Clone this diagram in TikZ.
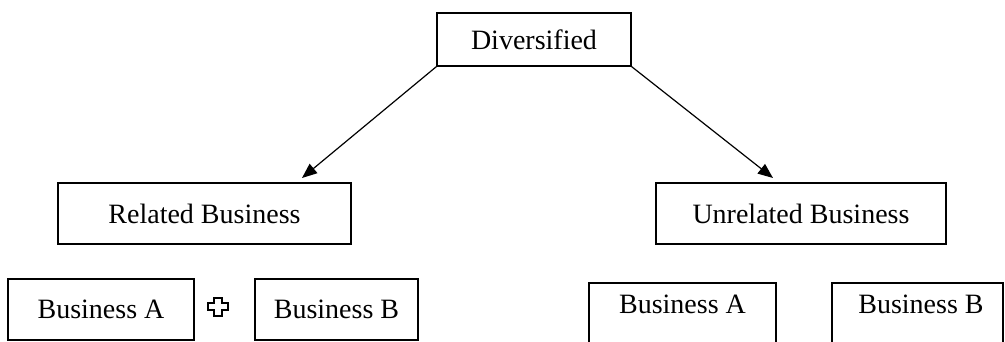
\documentclass[tikz,border=0pt]{standalone}
\usepackage{fontspec}
\setmainfont{Liberation Serif}
\usetikzlibrary{arrows.meta}
\begin{document}
\begin{tikzpicture}[x=1pt,y=-1pt,line width=1.2pt,
  box/.style={draw,inner sep=0pt,font=\fontsize{28}{34}\selectfont},
  label/.style={inner sep=0pt,font=\fontsize{28}{34}\selectfont},
  arr/.style={-{Triangle[length=15pt,width=12pt]}}]
\useasboundingbox (0,0) rectangle (1005,341);
\clip (0,0) rectangle (1005,341);
\node[box,minimum width=194pt,minimum height=53pt] (div) at (534,39.5) {Diversified};
\node[box,minimum width=293pt,minimum height=61pt] (rel) at (204.5,213.5) {Related Business};
\node[box,minimum width=290pt,minimum height=61pt] (unr) at (801,213.5) {Unrelated Business};
\node[box,minimum width=186pt,minimum height=61pt] (ra) at (101,309.5) {Business A};
\node[box,minimum width=163pt,minimum height=61pt] (rb) at (336.5,309.5) {Business B};
\node[label] (ua) at (682.5,304) {Business A};
\node[label] (ub) at (921,304) {Business B};
\draw (589,360) |- (776,283) -- (776,360);
\draw (832,360) |- (1003,283) -- (1003,360);
\coordinate (tl) at (302,178);
\coordinate (tr) at (773,178);
\draw[arr] (div.south west) -- (tl);
\draw[arr] (div.south east) -- (tr);
\node[inner sep=0pt] (plus) at (218,306.5) {};
\draw[line width=2pt,fill=white,shift={(plus)}]
  (-4,-9) -- (4,-9) -- (4,-3.5) -- (10,-3.5) -- (10,3.5) -- (4,3.5) -- (4,9)
  -- (-4,9) -- (-4,3.5) -- (-10,3.5) -- (-10,-3.5) -- (-4,-3.5) -- cycle;
\end{tikzpicture}
\end{document}
